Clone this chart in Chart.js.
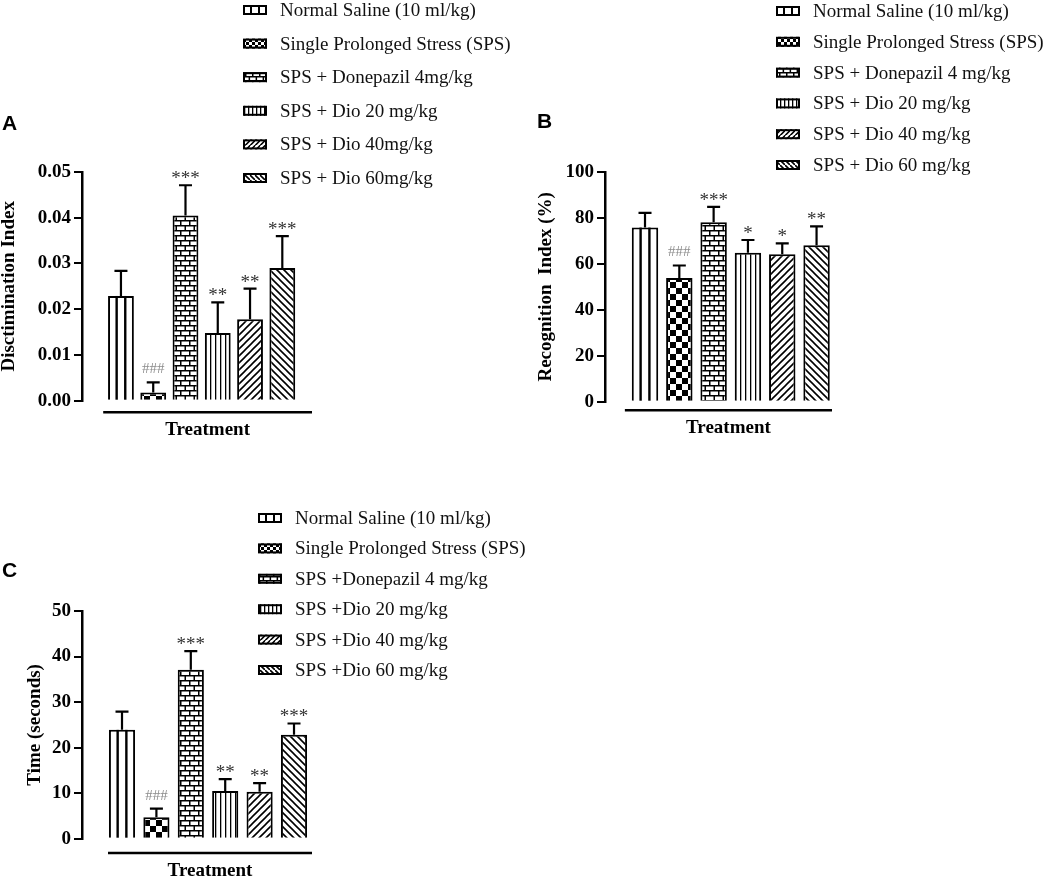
<!DOCTYPE html>
<html>
<head>
<meta charset="utf-8">
<script src="https://cdn.jsdelivr.net/npm/chart.js@4.4.1/dist/chart.umd.min.js"></script>
<style>
html, body { margin: 0; padding: 0; background: #fff; overflow: hidden; width: 1052px; height: 881px; }
canvas { position: absolute; }
#cA { left: 0; top: 0; }
#cB { left: 520px; top: 0; }
#cC { left: 0; top: 460px; }
</style>
</head>
<body>
<canvas id="cA" width="520" height="460"></canvas>
<canvas id="cB" width="532" height="460"></canvas>
<canvas id="cC" width="640" height="421"></canvas>
<script>
// --- data ---
const groupsA = ['Normal Saline (10 ml/kg)', 'Single Prolonged Stress (SPS)', 'SPS + Donepazil 4mg/kg',
                 'SPS + Dio 20 mg/kg', 'SPS + Dio 40mg/kg', 'SPS + Dio 60mg/kg'];
const meanA = [0.0229, 0.0018, 0.0405, 0.0148, 0.0178, 0.0290];
const semA  = [0.0055, 0.0022, 0.0066, 0.0067, 0.0067, 0.0070];
const sigA  = ['', '###', '***', '**', '**', '***'];
const ticksA = [0, 0.01, 0.02, 0.03, 0.04, 0.05];

const groupsB = ['Normal Saline (10 ml/kg)', 'Single Prolonged Stress (SPS)', 'SPS + Donepazil 4 mg/kg',
                 'SPS + Dio 20 mg/kg', 'SPS + Dio 40 mg/kg', 'SPS + Dio 60 mg/kg'];
const meanB = [75.8, 53.9, 78.1, 64.8, 64.2, 68.1];
const semB  = [6.4, 5.4, 6.7, 5.6, 4.7, 8.2];
const sigB  = ['', '###', '***', '*', '*', '**'];
const ticksB = [0, 20, 40, 60, 80, 100];

const groupsC = ['Normal Saline (10 ml/kg)', 'Single Prolonged Stress (SPS)', 'SPS +Donepazil 4 mg/kg',
                 'SPS +Dio 20 mg/kg', 'SPS +Dio 40 mg/kg', 'SPS +Dio 60 mg/kg'];
const meanC = [23.9, 4.7, 37.1, 10.5, 10.3, 22.8];
const semC  = [4.0, 1.9, 4.1, 2.6, 1.9, 2.5];
const sigC  = ['', '###', '***', '**', '**', '***'];
const ticksC = [0, 10, 20, 30, 40, 50];

const fillKinds = ['thirds', 'checker', 'brick', 'pinstripe', 'diagUp', 'diagDown'];
const xTitle = 'Treatment';

const SERIF = '"Liberation Serif", "Times New Roman", serif';
Chart.defaults.font.family = SERIF;
Chart.defaults.color = '#000';

// k scales the tile (legend swatches use a finer one)
function makeFill(kind, k) {
  const c = document.createElement('canvas');
  const g = c.getContext('2d');
  const tile = (w, h) => { c.width = w; c.height = h; g.fillStyle = '#fff'; g.fillRect(0, 0, w, h); g.fillStyle = '#000'; };
  if (kind === 'thirds') return '#fff';
  if (kind === 'checker') {
    const q = 6 * k;
    tile(2 * q, 2 * q);
    g.fillRect(0, 0, q, q); g.fillRect(q, q, q, q);
  } else if (kind === 'brick') {
    tile(9 * k, 10 * k);
    g.fillRect(0, 0, 9 * k, 1.5); g.fillRect(0, 5 * k, 9 * k, 1.5);
    g.fillRect(0, 0, 1.5, 5 * k); g.fillRect(4.5 * k, 5 * k, 1.5, 5 * k);
  } else if (kind === 'pinstripe') {
    tile(5 * k, 5);
    g.fillRect(0, 0, 1.3, 5);
  } else {
    const s = 7 * k;
    tile(s, s);
    g.strokeStyle = '#000'; g.lineWidth = 1.6; g.beginPath();
    if (kind === 'diagUp') {
      g.moveTo(0, s); g.lineTo(s, 0);
      g.moveTo(-1, 1); g.lineTo(1, -1);
      g.moveTo(s - 1, s + 1); g.lineTo(s + 1, s - 1);
    } else {
      g.moveTo(0, 0); g.lineTo(s, s);
      g.moveTo(s - 1, -1); g.lineTo(s + 1, 1);
      g.moveTo(-1, s - 1); g.lineTo(1, s + 1);
    }
    g.stroke();
  }
  return g.createPattern(c, 'repeat');
}
const fills = fillKinds.map(f => makeFill(f, 1));
const swatchFills = fillKinds.map(f => makeFill(f, f === 'checker' ? 0.5 : 0.8));

function thirdLines(ctx, left, width, top, height, w) {
  ctx.fillStyle = '#000';
  [1 / 3, 2 / 3].forEach(f => ctx.fillRect(left + width * f - w / 2, top, w, height));
}

// error bars, stars, treatment underline, legend and panel letter
const decor = {
  id: 'decor',
  afterDatasetsDraw(chart, args, o) {
    const ctx = chart.ctx, xs = chart.scales.x, ys = chart.scales.y, area = chart.chartArea;
    ctx.save();
    chart.getDatasetMeta(0).data.forEach((bar, i) => {
      const p = bar.getProps(['x', 'y', 'width', 'base'], true);
      if (fillKinds[i] === 'thirds') thirdLines(ctx, p.x - p.width / 2, p.width, p.y, p.base - p.y, 2.4);
      const top = ys.getPixelForValue(o.mean[i] + o.sem[i]);
      ctx.strokeStyle = '#000';
      ctx.lineWidth = 2.2;
      ctx.beginPath();
      ctx.moveTo(p.x, p.y); ctx.lineTo(p.x, top);
      ctx.moveTo(p.x - 6.5, top); ctx.lineTo(p.x + 6.5, top);
      ctx.stroke();
      const s = o.sig[i];
      if (s) {
        ctx.textAlign = 'center';
        ctx.textBaseline = 'alphabetic';
        if (s[0] === '#') {
          ctx.font = '15px ' + SERIF; ctx.fillStyle = '#8c8c8c';
          ctx.fillText(s, p.x, top - 9);
        } else {
          ctx.font = '19px ' + SERIF; ctx.fillStyle = '#333';
          ctx.fillText(s, p.x, top - 1);
        }
      }
    });

    // offset x axis line + title
    const x0 = xs.getPixelForValue(o.lineFrom), x1 = area.right, ly = area.bottom + o.lineGap;
    ctx.strokeStyle = '#000';
    ctx.lineWidth = 2.5;
    ctx.beginPath(); ctx.moveTo(x0, ly); ctx.lineTo(x1, ly); ctx.stroke();
    ctx.font = 'bold 19px ' + SERIF; ctx.fillStyle = '#000';
    ctx.textAlign = 'center'; ctx.textBaseline = 'middle';
    ctx.fillText(xTitle, (x0 + x1) / 2, ly + 18);

    // legend
    ctx.font = '19px ' + SERIF; ctx.textAlign = 'left';
    o.groups.forEach((t, i) => {
      const y = o.legY + i * o.legGap;
      ctx.fillStyle = swatchFills[i];
      ctx.fillRect(o.legX, y - 5, 24, 10);
      if (fillKinds[i] === 'thirds') thirdLines(ctx, o.legX, 24, y - 5, 10, 2);
      ctx.strokeStyle = '#000'; ctx.lineWidth = 2;
      ctx.strokeRect(o.legX + 1, y - 4, 22, 8);
      ctx.fillStyle = '#111';
      ctx.fillText(t, o.legX + 37, y + 1);
    });

    ctx.font = 'bold 21px "Liberation Sans", Arial, sans-serif';
    ctx.fillStyle = '#000';
    ctx.textBaseline = 'alphabetic';
    ctx.fillText(o.letter, o.letterX, o.letterY);
    ctx.restore();
  }
};

function panel(id, p) {
  new Chart(document.getElementById(id), {
    type: 'bar',
    data: {
      datasets: [{
        data: p.mean.map((v, i) => ({ x: i, y: v })),
        backgroundColor: fills,
        borderColor: '#000',
        borderWidth: 2,
        barPercentage: p.barPct,
        categoryPercentage: 1
      }]
    },
    options: {
      responsive: false,
      animation: false,
      layout: { padding: p.pad },
      scales: {
        x: { type: 'linear', display: false, offset: false, min: p.xMin, max: p.xMax },
        y: {
          min: 0, max: p.ticks[p.ticks.length - 1],
          afterBuildTicks: s => { s.ticks = p.ticks.map(v => ({ value: v })); },
          afterFit: s => { s.width = p.yWidth; },
          border: { display: true, color: '#000', width: 2.5 },
          grid: { drawOnChartArea: false, drawTicks: true, tickLength: 8, color: '#000', lineWidth: 2 },
          ticks: {
            padding: 3, color: '#000',
            font: { size: 19, weight: 'bold' },
            callback: v => p.fmt(v)
          },
          title: {
            display: true, text: p.yTitle, color: '#000',
            font: { size: 19, weight: 'bold', lineHeight: 1 },
            padding: { top: p.titlePad, bottom: 0 }
          }
        }
      },
      plugins: {
        legend: { display: false },
        tooltip: { enabled: false },
        decor: {
          mean: p.mean, sem: p.sem, sig: p.sig, groups: p.groups,
          lineFrom: p.lineFrom, lineGap: p.lineGap,
          legX: p.legX, legY: p.legY, legGap: p.legGap,
          letter: p.letter, letterX: p.letterX, letterY: p.letterY
        }
      }
    },
    plugins: [decor]
  });
}

panel('cA', {
  mean: meanA, sem: semA, sig: sigA, groups: groupsA, ticks: ticksA, fmt: v => v.toFixed(2),
  yTitle: 'Disctimination Index', titlePad: 0, yWidth: 82,
  pad: { left: 0, top: 172, right: 208, bottom: 59.3 },
  xMin: -1.207, xMax: 5.92, barPct: 0.8, lineFrom: -0.55, lineGap: 11.5,
  legX: 243, legY: 10, legGap: 33.6, letter: 'A', letterX: 2, letterY: 130
});

panel('cB', {
  mean: meanB, sem: semB, sig: sigB, groups: groupsB, ticks: ticksB, fmt: v => String(v),
  yTitle: 'Recognition  Index (%)', titlePad: 17, yWidth: 85,
  pad: { left: 0, top: 172, right: 220, bottom: 58.3 },
  xMin: -1.166, xMax: 5.45, barPct: 0.77, lineFrom: -0.587, lineGap: 8.5,
  legX: 256, legY: 11, legGap: 30.8, letter: 'B', letterX: 17, letterY: 128
});

panel('cC', {
  mean: meanC, sem: semC, sig: sigC, groups: groupsC, ticks: ticksC, fmt: v => String(v),
  yTitle: 'Time (seconds)', titlePad: 25.5, yWidth: 82,
  pad: { left: 0, top: 151, right: 328, bottom: 42.3 },
  xMin: -1.163, xMax: 5.523, barPct: 0.76, lineFrom: -0.407, lineGap: 14.3,
  legX: 258, legY: 58, legGap: 30.4, letter: 'C', letterX: 2, letterY: 117
});
</script>
</body>
</html>
